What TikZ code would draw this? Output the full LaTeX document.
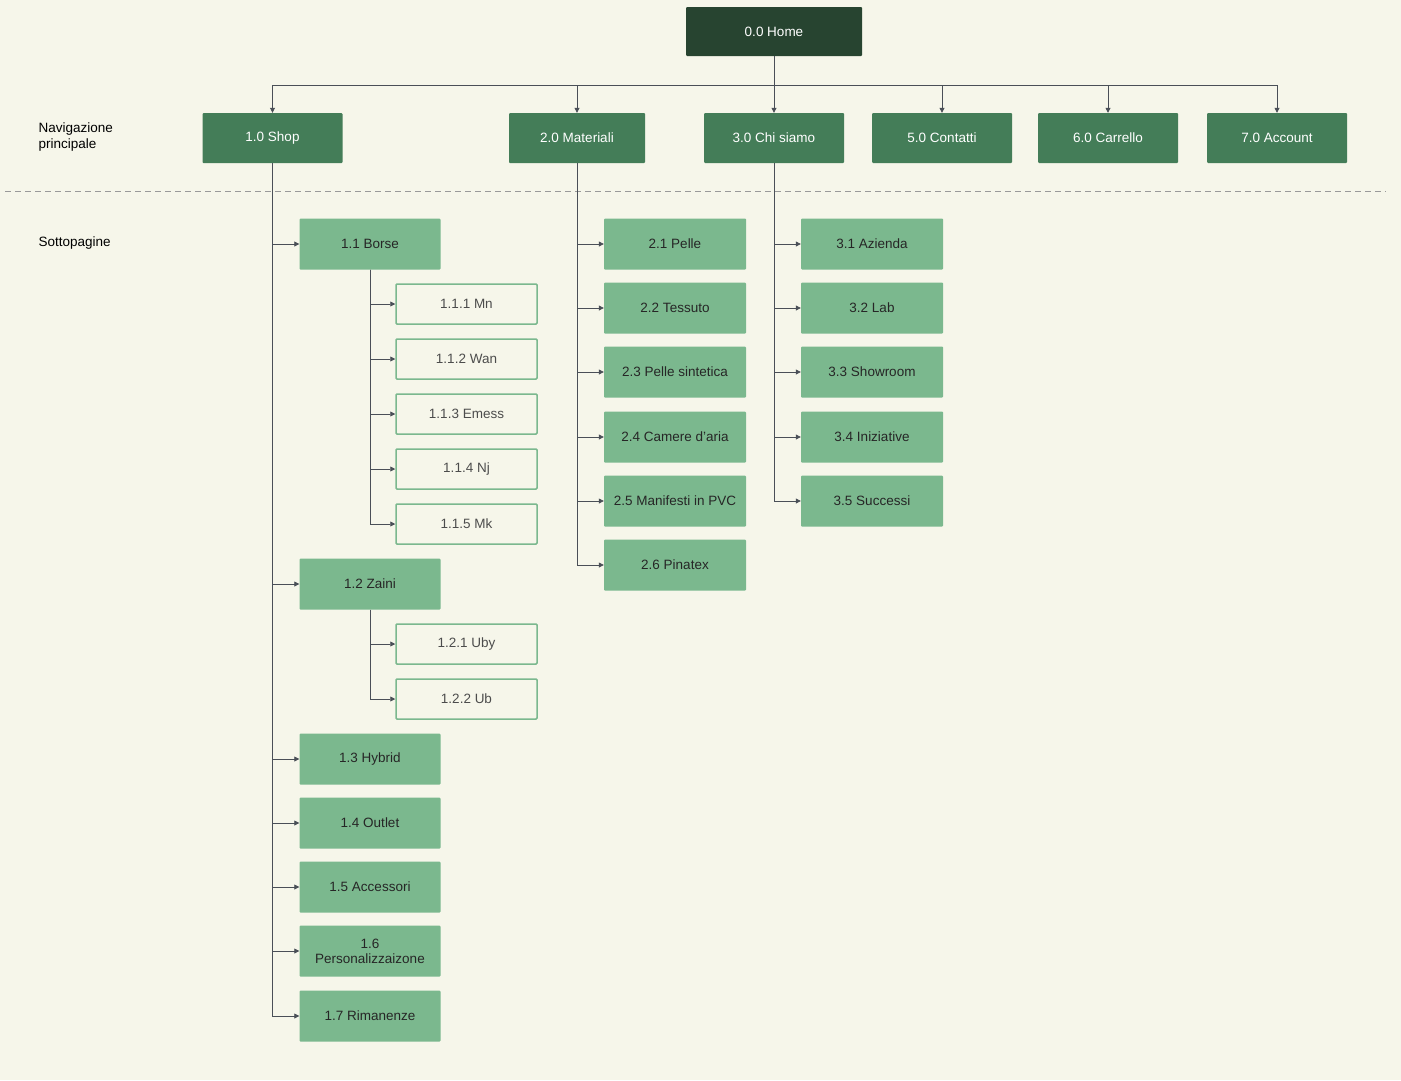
\documentclass[tikz,border=0pt]{standalone}
\usepackage{fontspec}
\setmainfont{Liberation Sans}
\usetikzlibrary{arrows.meta}
\definecolor{bg}{HTML}{F6F6EA}
\definecolor{homec}{HTML}{274430}
\definecolor{lone}{HTML}{447D58}
\definecolor{ltwo}{HTML}{7BB88E}
\definecolor{ln}{HTML}{4A4F57}
\begin{document}
\begin{tikzpicture}[x=1pt,y=-1pt,
 base/.style={rectangle,rounded corners=1pt,font=\fontsize{13.5}{15}\selectfont,align=center,inner sep=0pt},
 homebox/.style={base,fill=homec,text=white,minimum width=176,minimum height=49},
 onebox/.style={base,fill=lone,text=white,minimum width=140,minimum height=50},
 twobox/.style={base,fill=ltwo,text=black!85,minimum width=141,minimum height=51},
 subbox/.style={base,fill=bg,draw=ltwo,line width=1.5pt,text=black!70,minimum width=141,minimum height=40},
 conn/.style={draw=ln,line width=0.8pt,-{Triangle[length=5pt,width=5pt]}},
 lab/.style={font=\fontsize{13.5}{16}\selectfont,align=left,anchor=west}]
\fill[bg] (0,0) rectangle (1401,1080);
\useasboundingbox (0,0) rectangle (1401,1080);
\draw[dashed,draw=black!40,line width=0.8pt,dash pattern=on 6pt off 4pt] (5,191) -- (1386,191);
\node[lab] (navl) at (35,137) {Navigazione\\principale};
\node[lab] (sotl) at (35,243) {Sottopagine};
\node[homebox] (home) at (774,31.5) {0.0 Home};
\node[onebox] (shop) at (272.5,138) {1.0 Shop};
\node[onebox,minimum width=136] (mat) at (577,138) {2.0 Materiali};
\node[onebox] (chi) at (774,138) {3.0 Chi siamo};
\node[onebox] (con) at (942,138) {5.0 Contatti};
\node[onebox] (car) at (1108,138) {6.0 Carrello};
\node[onebox] (acc) at (1277,138) {7.0 Account};
\coordinate (bus) at (774,85);
\draw[ln,line width=0.8pt] (home.south) -- (bus);
\foreach \n in {shop,mat,chi,con,car,acc}{
 \draw[conn] (bus) -| (\n.north);
}
% shop column
\foreach \n/\y/\t in {s1/244/1.1 Borse,s2/584/1.2 Zaini,s3/759/1.3 Hybrid,s4/823/1.4 Outlet,s5/887/1.5 Accessori,s6/951/{1.6\\Personalizzaizone},s7/1016/1.7 Rimanenze}{
 \node[twobox] (\n) at (370,\y) {\t};
 \draw[conn] (shop.south) |- (\n.west);
}
\foreach \n/\y/\t in {a1/304/1.1.1 Mn,a2/359/1.1.2 Wan,a3/414/1.1.3 Emess,a4/469/1.1.4 Nj,a5/524/1.1.5 Mk}{
 \node[subbox] (\n) at (466.5,\y) {\t};
 \draw[conn] (s1.south) |- (\n.west);
}
\foreach \n/\y/\t in {b1/644/1.2.1 Uby,b2/699/1.2.2 Ub}{
 \node[subbox] (\n) at (466.5,\y) {\t};
 \draw[conn] (s2.south) |- (\n.west);
}
\foreach \n/\y/\t in {m1/244/2.1 Pelle,m2/308/2.2 Tessuto,m3/372/2.3 Pelle sintetica,m4/437/2.4 Camere d'aria,m5/501/2.5 Manifesti in PVC,m6/565/2.6 Pinatex}{
 \node[twobox,minimum width=142] (\n) at (675,\y) {\t};
 \draw[conn] (mat.south) |- (\n.west);
}
\foreach \n/\y/\t in {c1/244/3.1 Azienda,c2/308/3.2 Lab,c3/372/3.3 Showroom,c4/437/3.4 Iniziative,c5/501/3.5 Successi}{
 \node[twobox,minimum width=142] (\n) at (872,\y) {\t};
 \draw[conn] (chi.south) |- (\n.west);
}
\end{tikzpicture}
\end{document}
